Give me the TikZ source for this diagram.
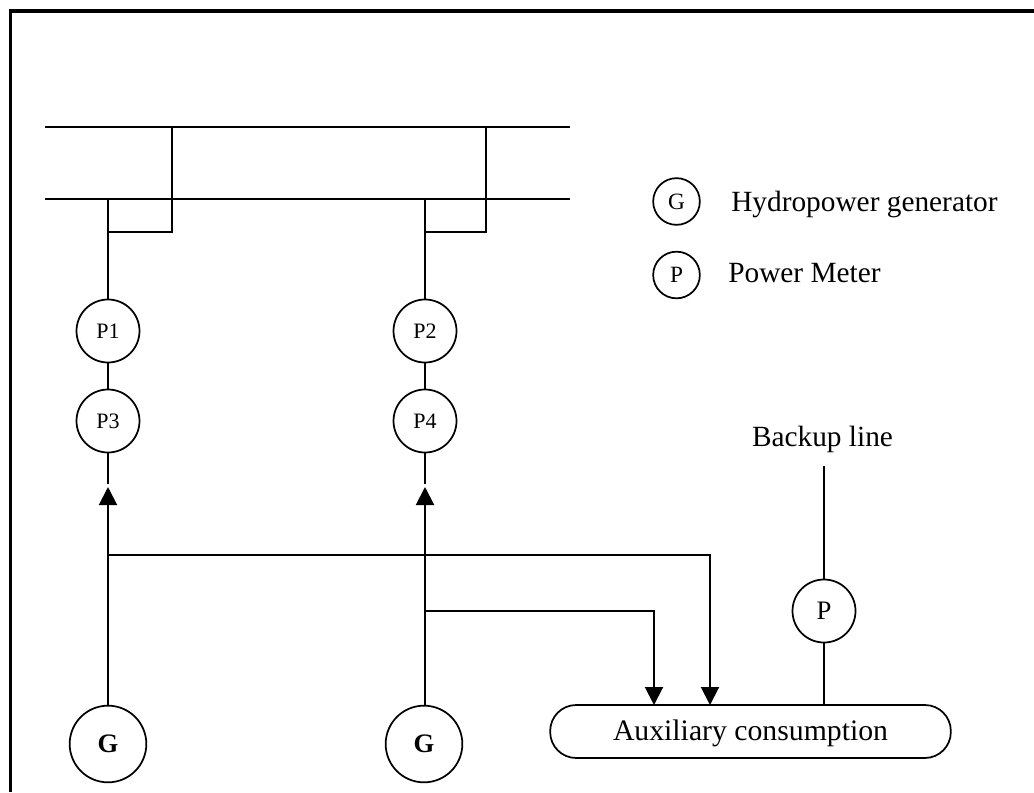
\documentclass[tikz,border=0pt]{standalone}
\usepackage{fontspec}
\setmainfont{Liberation Serif}
\usetikzlibrary{arrows.meta}
\begin{document}
\begin{tikzpicture}[x=0.75pt,y=-0.75pt,
  ln/.style={draw=black,line width=1.5pt},
  circ/.style={draw=black,line width=1.3pt},
  meter/.style={circle,circ,minimum size=47.25pt,inner sep=0pt,font=\fontsize{16.5}{18}\selectfont},
  gen/.style={circle,circ,minimum size=57.5pt,inner sep=0pt,font=\fontsize{20}{22}\selectfont\bfseries},
  legendc/.style={circle,circ,inner sep=0pt,font=\fontsize{17.5}{20}\selectfont},
  lbl/.style={inner sep=0pt,font=\fontsize{22}{24}\selectfont},
  tip/.style={-{Triangle[length=13.5pt,width=13.5pt]}}]
\useasboundingbox (0,0) rectangle (1034,792);
\draw[line width=0.1pt,draw=white,fill=white] (0,0) rectangle (1034,792);
% frame
\fill[black] (9,9) rectangle (1034,13);
\fill[black] (9,9) rectangle (12,792);
% buses
\coordinate (b1l) at (45,127); \coordinate (b1r) at (570,127);
\coordinate (b2l) at (45,199); \coordinate (b2r) at (570,199);
\draw[ln] (b1l) -- (b1r);
\draw[ln] (b2l) -- (b2r);
% nodes
\node[meter] (p1) at (108,331) {P1};
\node[meter] (p3) at (108,421) {P3};
\node[meter] (p2) at (425,331) {P2};
\node[meter] (p4) at (425,421) {P4};
\node[gen] (g1) at (108,744) {G};
\node[gen] (g2) at (424,744) {G};
\node[meter,font=\fontsize{20}{22}\selectfont] (p) at (824,611) {P};
\node[circ,rounded corners=19.5pt,minimum width=300.5pt,minimum height=39.75pt,inner sep=0pt,text height=14pt,text depth=1.2pt,font=\fontsize{22.3}{24}\selectfont] (aux) at (750.5,731.5) {Auxiliary consumption};
\node[legendc,minimum width=35pt,minimum height=32pt] (lg) at (676.5,201.5) {G};
\node[legendc,minimum width=35pt,minimum height=31pt] (lp) at (676.5,275) {P};
\node[lbl,anchor=base west] (tg) at (731,211) {Hydropower generator};
\node[lbl,anchor=base west] (tp) at (728,282) {Power Meter};
\node[lbl,anchor=base] (tb) at (822.5,446) {Backup line};
% junctions
\coordinate (j1) at (108,199); \coordinate (j1b) at (108,232);
\coordinate (k1) at (172,127); \coordinate (k1b) at (172,232);
\coordinate (j2) at (425,199); \coordinate (j2b) at (425,232);
\coordinate (k2) at (486,127); \coordinate (k2b) at (486,232);
\coordinate (a1) at (108,484); \coordinate (t1) at (108,487);
\coordinate (a2) at (425,484); \coordinate (t2) at (425,487);
\coordinate (g1t) at (108,705); \coordinate (g2t) at (425,705);
\coordinate (h1) at (108,555); \coordinate (h1r) at (710,555);
\coordinate (h2) at (425,611); \coordinate (h2r) at (654,611);
\coordinate (e1) at (710,705); \coordinate (e2) at (654,705);
\coordinate (bk) at (824,466); \coordinate (pa) at (824,705);
\draw[ln] (j1) -- (p1);
\draw[ln] (k1) -- (k1b) -- (j1b);
\draw[ln] (j2) -- (p2);
\draw[ln] (k2) -- (k2b) -- (j2b);
\draw[ln] (p1) -- (p3);
\draw[ln] (p2) -- (p4);
\draw[ln] (p3) -- (a1);
\draw[ln] (p4) -- (a2);
\draw[ln,tip] (g1t) -- (t1);
\draw[ln,tip] (g2t) -- (t2);
\draw[ln,tip] (h1) -- (h1r) -- (e1);
\draw[ln,tip] (h2) -- (h2r) -- (e2);
\draw[ln] (bk) -- (p);
\draw[ln] (p) -- (pa);
\end{tikzpicture}
\end{document}
